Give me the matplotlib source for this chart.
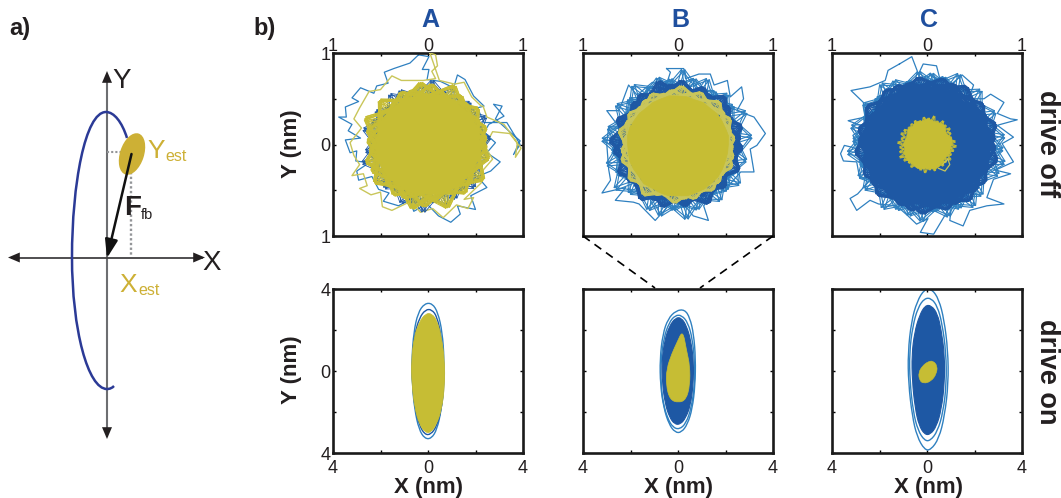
import numpy as np
import matplotlib
matplotlib.use("Agg")
import matplotlib.pyplot as plt
from matplotlib.patches import Ellipse, PathPatch
from matplotlib.path import Path

plt.rcParams['font.family'] = ['Liberation Sans', 'DejaVu Sans']

W, H = 1061, 498
BLUE_DARK = '#1e58a4'
BLUE_LINE = '#2f80c0'
YELLOW = '#c6bd34'
YELLOW_LINE = '#c9c65a'
TEXT = '#231f20'
TITLE = '#1f4f9e'
GOLD = '#cdb035'
ORBIT = '#2b3a96'

columns = ['A', 'B', 'C']
rows = ['drive off', 'drive on']

# ---- top row: trajectories in nm
a_off_blue_x = [-.10,-.19,-.36,-.46,-.42,-.54,-.57,-.71,-.80,-.73,-.87,-.86,-.94,-.80,-.84,-.71,-.87,-.82,-.75,-.76,-.62,-.75,-.73,-.59,-.52,-.41,-.47,-.31,-.19,-.15,-.01,.11,.24,.34,.31,.50,.45,.62,.52,.66,.76,.62,.71,.59,.64,.80,.69,.78,.71,.87,.97,.90,.97,.83,.59,.52,.59,.48,.39,.31,.27,.13,-.01,.01,-.06,.01,-.10]
a_off_blue_y = [.98,.89,.83,.79,.67,.64,.56,.62,.51,.47,.41,.30,.30,.22,.15,.07,.05,-.09,-.07,-.18,-.20,-.29,-.39,-.35,-.49,-.53,-.62,-.67,-.60,-.73,-.65,-.78,-.85,-.76,-.67,-.71,-.56,-.47,-.35,-.29,-.19,-.09,.02,.13,.22,.31,.44,.42,.28,.13,.04,-.11,0,.24,.24,.40,.42,.53,.71,.76,.62,.69,.71,.82,.82,.96,.98]
a_off_yellow_x = [.02,.08,.10,.04,.08,-.05,-.28,-.38,-.50,-.62,-.72,-.78,-.70,-.82,-.78,-.72,-.80,-.68,-.64,-.72,-.60,-.50,-.48,-.38,-.18,-.08,.05,.16,.30,.42,.48,.38,.56,.58,.68,.60,.68,.86,.98,.92,.94,.80,.62,.58,.56,.46,.38,.28,.12,.02]
a_off_yellow_y = [1.0,.98,.86,.80,.72,.70,.70,.75,.60,.58,.40,.28,.18,.02,-.12,-.22,-.34,-.32,-.45,-.48,-.55,-.52,-.68,-.72,-.62,-.74,-.70,-.80,-.66,-.70,-.58,-.60,-.42,-.28,-.16,-.02,.14,.12,-.04,-.14,.02,.22,.30,.42,.42,.52,.68,.66,.70,1.0]
b_off_blue_x = [-.12,.06,.08,.22,.34,.38,.52,.55,.67,.69,.62,.80,.92,.83,.76,.80,.66,.55,.43,.34,.27,.32,.16,.09,-.10,-.24,-.41,-.47,-.66,-.55,-.80,-.71,-.73,-.75,-.73,-.62,-.75,-.62,-.52,-.43,-.27,-.13,-.08,-.12]
b_off_blue_y = [.83,.83,.72,.77,.77,.65,.70,.52,.63,.50,.37,.30,.12,-.01,-.05,-.30,-.30,-.43,-.47,-.58,-.67,-.83,-.78,-.69,-.67,-.83,-.65,-.63,-.61,-.47,-.53,-.39,-.27,.01,.19,.19,.37,.37,.65,.54,.68,.63,.79,.83]
c_off_blue_x = [-.29,-.16,-.09,-.04,.10,.14,.03,.23,.28,.37,.49,.44,.60,.67,.81,.74,.88,.95,.74,.91,.79,.91,.72,.88,.70,.63,.81,.63,.45,.38,.24,.26,.07,-.07,.01,-.11,-.20,-.32,-.51,-.60,-.74,-.81,-.73,-.60,-.71,-.74,-.88,-.91,-.87,-.71,-.78,-.65,-.83,-.65,-.67,-.80,-.60,-.44,-.41,-.29]
c_off_blue_y = [.88,.96,.77,.88,.86,.70,.76,.61,.68,.76,.65,.50,.50,.55,.46,.34,.28,.27,.21,.08,.01,-.19,-.28,-.32,-.38,-.58,-.65,-.67,-.72,-.89,-.83,-.65,-.98,-.96,-.81,-.87,-.78,-.67,-.65,-.61,-.72,-.59,-.54,-.39,-.36,-.19,-.18,-.10,-.01,-.05,.10,.19,.26,.30,.46,.59,.63,.70,.81,.88]
c_off_spur_x = [.16,.22,.24,.19,.12]
c_off_spur_y = [-.22,-.16,-.22,-.29,-.26]

# ---- top row: radius in nm read at evenly spaced bearings
a_fringe_blue = [.50,.66,.52,.60,.50,.68,.50,.62,.52,.64,.50,.60,.52,.66,.50,.62,.52,.70,.50,.64,.52,.62,.50,.66,.52,.68,.50,.60,.52,.66,.50,.64,.52,.70,.50,.62,.52,.66,.50,.72,.52,.64,.50,.68,.52,.66,.50,.62,.52,.70,.50,.66,.52,.74,.50,.64,.52,.70,.50,.66,.52,.62,.50,.68,.52,.66,.50,.62,.52,.64,.50,.60]
a_fringe_yellow = [.52,.62,.50,.64,.53,.60,.50,.66,.52,.61,.50,.64,.51,.70,.52,.60,.50,.66,.53,.68,.50,.62,.52,.64,.50,.60,.52,.70,.50,.62,.53,.72,.50,.66,.52,.64,.50,.62,.53,.68,.50,.66,.52,.70,.50,.62,.52,.66,.50,.64,.53,.72,.50,.68,.52,.62,.50,.72,.52,.60,.50,.66,.53,.62,.50,.70,.52,.60,.50,.66,.52,.62]
a_core = [.55,.55,.54,.55,.55,.54,.56,.55,.56,.55,.54,.55,.55,.54,.55,.54,.55,.54,.55,.54,.55,.55,.56,.54,.55,.56,.55,.54,.56,.56,.55,.56,.54,.55,.55,.56]
b_fringe_1 = [.56,.78,.60,.70,.58,.80,.62,.72,.56,.76,.60,.70,.58,.78,.56,.74,.60,.82,.58,.72,.62,.76,.56,.70,.60,.80,.62,.72,.58,.78,.60,.68,.60,.76,.58,.80,.62,.70,.60,.78,.56,.72,.60,.82,.62,.74,.58,.70,.60,.78,.60,.80,.62,.72,.58,.82,.60,.74,.62,.70,.58,.76,.60,.72,.62,.78,.58,.70,.60,.74,.62,.68]
b_fringe_2 = [.52,.66,.54,.70,.50,.62,.54,.68,.52,.72,.50,.64,.54,.68,.52,.62,.50,.70,.54,.66,.50,.72,.54,.64,.52,.68,.50,.66,.54,.62,.52,.70,.50,.64,.54,.72,.50,.68,.52,.62,.54,.70,.50,.66,.52,.64,.54,.72,.50,.66,.52,.70,.54,.64,.50,.68,.54,.62,.52,.72,.50,.64,.54,.68,.52,.62,.50,.70,.54,.64,.52,.68]
b_fringe_3 = [.54,.60,.56,.58,.52,.64,.56,.60,.54,.62,.52,.58,.56,.64,.52,.58,.56,.62,.54,.60,.52,.64,.56,.58,.54,.60,.52,.62,.56,.58,.54,.64,.52,.60,.56,.62,.54,.58,.52,.64,.56,.60,.54,.62,.52,.58,.56,.64,.54,.60,.52,.62,.56,.58,.54,.64,.52,.60,.56,.62,.54,.58,.52,.64,.56,.60,.54,.62,.52,.58,.56,.64]
b_fringe_yellow = [.50,.60,.52,.58,.50,.62,.52,.60,.50,.64,.52,.58,.50,.62,.52,.58,.50,.64,.52,.60,.50,.58,.52,.62,.50,.60,.52,.58,.50,.62,.52,.60,.50,.64,.52,.58,.50,.60,.52,.62,.50,.58,.52,.64,.50,.60,.52,.66,.50,.60,.52,.58,.50,.64,.52,.60,.50,.62,.52,.58,.50,.62,.52,.60,.50,.58,.52,.62,.50,.60,.52,.58]
b_core = [.53,.54,.53,.53,.53,.52,.53,.52,.53,.53,.54,.53,.53,.52,.53,.53,.54,.54,.53,.53,.54,.54,.54,.56,.55,.56,.57,.56,.57,.56,.56,.55,.55,.54,.53,.53]
c_fringe_1 = [.62,.82,.64,.74,.62,.80,.64,.72,.62,.82,.66,.72,.64,.84,.62,.76,.64,.78,.62,.80,.64,.72,.62,.78,.64,.82,.62,.74,.66,.80,.62,.72,.64,.82,.62,.78,.64,.84,.62,.74,.66,.80,.62,.82,.64,.74,.62,.84,.64,.78,.62,.80,.64,.84,.62,.74,.66,.82,.62,.78,.64,.84,.62,.80,.64,.74,.62,.82,.64,.84,.62,.80]
c_fringe_2 = [.62,.72,.60,.76,.64,.70,.60,.74,.62,.70,.60,.76,.64,.72,.60,.74,.62,.68,.60,.74,.64,.70,.60,.72,.62,.74,.60,.70,.62,.76,.64,.70,.60,.74,.62,.72,.64,.76,.60,.70,.62,.74,.60,.72,.64,.76,.60,.70,.62,.72,.64,.74,.60,.76,.62,.70,.60,.74,.64,.72,.60,.76,.62,.72,.60,.74,.64,.70,.60,.76,.62,.72]
c_fill = [.66,.65,.63,.62,.62,.60,.62,.62,.63,.62,.61,.62,.62,.62,.63,.63,.64,.66,.66,.67,.67,.66,.66,.67,.67,.67,.66,.65,.64,.63,.63,.64,.64,.66,.66,.66]
c_core = [.26,.27,.25,.24,.25,.28,.27,.26,.27,.28,.26,.27,.26,.25,.26,.24,.23,.24,.25,.24,.26,.26,.27,.26,.27,.28,.27,.26,.27,.28,.27,.26,.24,.25,.26,.25]
c_fringe_yellow = [.24,.30,.25,.27,.24,.28,.25,.30,.24,.29,.25,.31,.24,.28,.25,.32,.24,.29,.25,.30,.24,.27,.25,.29,.24,.28,.25,.27,.24,.29,.25,.30,.24,.28,.25,.31,.24,.29,.25,.30,.24,.32,.25,.30,.24,.28,.25,.30,.24,.27,.25,.29,.24,.31,.25,.28,.24,.30,.25,.27,.24,.29,.25,.28,.24,.30,.25,.28,.24,.29,.25,.31]

# ---- bottom row: loops as closed spline control points, in nm
a_on_outer_x = [.18,.42,.60,.68,.66,.56,.38,.14,-.14,-.38,-.56,-.66,-.68,-.60,-.42,-.14]
a_on_outer_y = [3.3,2.85,1.9,.6,-.7,-1.9,-2.85,-3.3,-3.3,-2.85,-1.9,-.7,.6,1.9,2.85,3.3]
a_on_mid_x = [.16,.38,.54,.66,.68,.56,.36,.12,-.14,-.36,-.54,-.66,-.68,-.56,-.36,-.10]
a_on_mid_y = [3.0,2.65,1.8,.5,-.7,-1.9,-2.7,-3.1,-3.1,-2.65,-1.85,-.6,.5,1.8,2.6,3.0]
a_on_core_x = [.16,.38,.56,.70,.70,.58,.36,.12,-.12,-.36,-.56,-.68,-.70,-.58,-.36,-.10]
a_on_core_y = [2.8,2.45,1.7,.5,-.7,-1.85,-2.6,-3.0,-3.0,-2.6,-1.8,-.6,.5,1.7,2.4,2.8]
b_on_outer_x = [.28,.50,.66,.74,.72,.60,.40,.14,-.12,-.38,-.60,-.74,-.76,-.64,-.42,-.08]
b_on_outer_y = [3.0,2.6,1.8,.6,-.7,-1.85,-2.6,-3.0,-3.0,-2.6,-1.8,-.7,.6,1.8,2.55,2.95]
b_on_outer2_x = [.16,.42,.60,.70,.70,.56,.34,.06,-.22,-.44,-.62,-.72,-.72,-.60,-.38,-.12]
b_on_outer2_y = [2.72,2.35,1.6,.5,-.7,-1.8,-2.55,-2.85,-2.75,-2.3,-1.6,-.6,.5,1.6,2.35,2.72]
b_on_fill_x = [.14,.36,.54,.66,.64,.52,.32,.10,-.14,-.36,-.54,-.66,-.68,-.56,-.36,-.10]
b_on_fill_y = [2.6,2.2,1.5,.45,-.7,-1.7,-2.3,-2.6,-2.6,-2.25,-1.6,-.6,.5,1.5,2.2,2.6]
b_on_core_x = [.2,.36,.5,.5,.34,.02,-.34,-.5,-.48,-.26,-.04]
b_on_core_y = [2.0,1.0,.25,-.7,-1.4,-1.55,-1.4,-.7,.1,.85,1.4]
c_on_outer_x = [.20,.50,.72,.88,.90,.74,.50,.16,-.10,-.42,-.62,-.78,-.80,-.66,-.42,-.10]
c_on_outer_y = [4.0,3.5,2.5,1.0,-.6,-2.2,-3.3,-3.85,-3.85,-3.2,-2.2,-.6,.9,2.4,3.4,4.0]
c_on_outer2_x = [.18,.44,.64,.80,.82,.68,.44,.14,-.10,-.38,-.58,-.72,-.74,-.60,-.38,-.10]
c_on_outer2_y = [3.55,3.15,2.3,.9,-.6,-2.0,-2.95,-3.4,-3.4,-2.9,-2.0,-.5,.9,2.2,3.1,3.55]
c_on_fill_x = [.18,.44,.60,.74,.74,.60,.40,.14,-.10,-.34,-.50,-.62,-.64,-.52,-.32,-.08]
c_on_fill_y = [3.2,2.8,2.0,.8,-.6,-1.9,-2.7,-3.1,-3.1,-2.65,-1.8,-.5,.8,1.9,2.7,3.2]
c_on_core_x = [.26,.44,.40,.18,-.14,-.32,-.36,-.20,.04]
c_on_core_y = [.50,.24,-.14,-.50,-.62,-.46,-.08,.24,.46]

# ---- axis scales and tick labels
top_ticks = [-1, -.5, 0, .5, 1]
top_labels = ['1', '', '0', '', '1']
bottom_ticks = [-4, -2, 0, 2, 4]
bottom_labels = ['4', '', '0', '', '4']


def bearing_xy(radii, stride=1, turn=0.0):
    r = np.asarray(radii, float)
    order = (np.arange(r.size + 1) * stride) % r.size
    t = np.deg2rad(order * 360.0 / r.size + turn)
    return r[order] * np.cos(t), r[order] * np.sin(t)


def spline_path(xs, ys):
    p = np.column_stack([xs, ys])
    q = np.roll(p, -1, axis=0)
    m = (p + q) / 2
    verts, codes = [m[-1]], [Path.MOVETO]
    for i in range(len(p)):
        verts += [p[i], m[i]]
        codes += [Path.CURVE3, Path.CURVE3]
    return Path(verts, codes)


fig = plt.figure(figsize=(W / 100, H / 100), dpi=100, facecolor='white')


def axes_px(l, t, r, b, **kw):
    return fig.add_axes([l / W, 1 - b / H, (r - l) / W, (b - t) / H], **kw)


ov = axes_px(0, 0, W, H, zorder=5)
ov.set_xlim(0, W)
ov.set_ylim(H, 0)
ov.axis('off')
ov.patch.set_alpha(0)

lefts = [(333, 523), (583, 773), (832, 1022)]


def style(ax, ticks, labels, top):
    ax.set_xlim(ticks[0], ticks[-1])
    ax.set_ylim(ticks[0], ticks[-1])
    ax.set_xticks(ticks)
    ax.set_yticks(ticks)
    ax.set_xticklabels(labels)
    ax.set_yticklabels(labels)
    ax.tick_params(direction='in', length=2.5, width=1, top=True, right=True,
                   labeltop=top, labelbottom=not top, labelsize=13,
                   labelcolor=TEXT, pad=2)
    ax.tick_params(axis='x', pad=-1.5 if top else 5)
    for s in ax.spines.values():
        s.set_linewidth(1.9)
        s.set_color('#1a1a1a')


def zig(ax, radii, color, lw=.8, z=2, strides=(1, 5, 7), turns=(0, 1.7, 3.3)):
    for s in strides:
        for turn in turns:
            x, y = bearing_xy(radii, s, turn)
            ax.plot(x, y, color=color, lw=lw, zorder=z)


def fill_r(ax, radii, color, z):
    x, y = bearing_xy(radii)
    ax.fill(x, y, color=color, lw=.5, zorder=z)


def loop(ax, xs, ys, color, lw=1.0, z=2, fill=False):
    ax.add_patch(PathPatch(spline_path(xs, ys), fc=color if fill else 'none',
                           ec=color, lw=lw, zorder=z))


# top row
axs_top = [axes_px(l, 53, r, 236) for l, r in lefts]
for i, ax in enumerate(axs_top):
    style(ax, top_ticks, top_labels, True)
    if i:
        ax.set_yticklabels([])

ax = axs_top[0]
ax.plot(a_off_blue_x, a_off_blue_y, color=BLUE_LINE, lw=.9, zorder=2)
ax.plot(a_off_yellow_x, a_off_yellow_y, color=YELLOW_LINE, lw=1.0, zorder=3)
zig(ax, a_fringe_blue, BLUE_DARK, .6, 3, (1, 5), (0, 2.5))
zig(ax, a_fringe_yellow, YELLOW, .8, 4)
fill_r(ax, a_core, YELLOW, 5)

ax = axs_top[1]
ax.plot(b_off_blue_x, b_off_blue_y, color=BLUE_LINE, lw=.9, zorder=2)
zig(ax, b_fringe_1, BLUE_LINE, .8, 2, (1, 5), (0, 2.5))
zig(ax, b_fringe_2, BLUE_DARK, .8, 3)
zig(ax, b_fringe_3, BLUE_DARK, 1.0, 3, (1, 5), (0, 2.5))
zig(ax, b_fringe_yellow, YELLOW_LINE, .7, 4)
fill_r(ax, b_core, YELLOW, 5)

ax = axs_top[2]
ax.plot(c_off_blue_x, c_off_blue_y, color=BLUE_LINE, lw=.9, zorder=2)
zig(ax, c_fringe_1, BLUE_LINE, .8, 2, (1, 5), (0, 2.5))
zig(ax, c_fringe_2, BLUE_DARK, .8, 3)
fill_r(ax, c_fill, BLUE_DARK, 3)
zig(ax, c_fringe_yellow, YELLOW, .7, 4, (1,), (0, 2.5))
ax.plot(c_off_spur_x, c_off_spur_y, color=YELLOW_LINE, lw=.9, zorder=4)
fill_r(ax, c_core, YELLOW, 5)

# bottom row
axs_bot = [axes_px(l, 289, r, 453) for l, r in lefts]
for i, ax in enumerate(axs_bot):
    style(ax, bottom_ticks, bottom_labels, False)
    if i:
        ax.set_yticklabels([])

ax = axs_bot[0]
loop(ax, a_on_outer_x, a_on_outer_y, BLUE_LINE, 1.0, 2)
loop(ax, a_on_mid_x, a_on_mid_y, BLUE_DARK, 1.0, 3)
loop(ax, a_on_core_x, a_on_core_y, YELLOW, .6, 4, True)

ax = axs_bot[1]
loop(ax, b_on_outer_x, b_on_outer_y, BLUE_LINE, 1.0, 2)
loop(ax, b_on_outer2_x, b_on_outer2_y, BLUE_LINE, 1.0, 2)
loop(ax, b_on_fill_x, b_on_fill_y, BLUE_DARK, .8, 3, True)
loop(ax, b_on_core_x, b_on_core_y, YELLOW, .5, 4, True)

ax = axs_bot[2]
loop(ax, c_on_outer_x, c_on_outer_y, BLUE_LINE, 1.0, 2)
loop(ax, c_on_outer2_x, c_on_outer2_y, BLUE_LINE, 1.0, 2)
loop(ax, c_on_fill_x, c_on_fill_y, BLUE_DARK, .8, 3, True)
loop(ax, c_on_core_x, c_on_core_y, YELLOW, .4, 4, True)

# labels
tk = dict(color=TEXT, ha='center', va='center')
for (l, r), name in zip(lefts, columns):
    ov.text((l + r) / 2 + 2, 20, name, color=TITLE, fontsize=18, fontweight='bold',
            ha='center', va='center')
    ov.text((l + r) / 2 + 1, 487, 'X (nm)', fontsize=16, fontweight='bold', **tk)
ov.text(292, 144, 'Y (nm)', fontsize=16, fontweight='bold', rotation=90, **tk)
ov.text(292, 370, 'Y (nm)', fontsize=16, fontweight='bold', rotation=90, **tk)
ov.text(1047, 144, rows[0], fontsize=19.5, fontweight='bold', rotation=270, **tk)
ov.text(1047, 372, rows[1], fontsize=19.5, fontweight='bold', rotation=270, **tk)
ov.text(9, 28, 'a)', fontsize=17, fontweight='bold', color=TEXT, ha='left', va='center')
ov.text(253, 28, 'b)', fontsize=17, fontweight='bold', color=TEXT, ha='left', va='center')

# zoom connectors
ov.plot([583, 655], [236, 288], color='black', lw=1.2, ls=(0, (5, 3.5)))
ov.plot([773, 700], [236, 288], color='black', lw=1.2, ls=(0, (5, 3.5)))

# panel a
ov.plot([107, 107], [76, 436], color='#6d6e71', lw=1.5, zorder=1)
ov.plot([12, 202], [257.5, 257.5], color='#414042', lw=1.3, zorder=1)
for tip, tail in [((107, 71), (107, 83)), ((107, 439), (107, 427)),
                  ((8, 257.5), (20, 257.5)), ((205, 257.5), (193, 257.5))]:
    ov.annotate('', xy=tip, xytext=tail, arrowprops=dict(
        arrowstyle='-|>,head_length=.85,head_width=.36', color='#231f20', lw=0,
        shrinkA=0, shrinkB=0))
orbit = Path([(127, 138), (122, 122), (114, 112), (106, 112),
              (85, 112), (72, 185), (72, 257),
              (72, 330), (88, 389), (107, 389),
              (110, 389), (112, 388), (114, 386)],
             [Path.MOVETO] + [Path.CURVE4] * 12)
ov.add_patch(PathPatch(orbit, fc='none', ec=ORBIT, lw=1.8, zorder=2))
ov.add_patch(Ellipse((132, 154), 24, 43, angle=18, fc=GOLD, ec='none', zorder=3))
ov.plot([107, 121], [152, 152], color='#939598', lw=1.5, ls=(0, (1, 1)), zorder=2)
ov.plot([131, 131], [172, 257], color='#939598', lw=1.7, ls=(0, (1, 1)), zorder=2)
ov.annotate('', xy=(107, 258), xytext=(131.5, 154), zorder=4, arrowprops=dict(
    arrowstyle='-|>,head_length=1.1,head_width=.38', color='#111111', lw=1.8,
    shrinkA=0, shrinkB=0))
ov.text(122, 81, 'Y', fontsize=20, color=TEXT, ha='center', va='center')
ov.text(212, 263, 'X', fontsize=20, color=TEXT, ha='center', va='center')
ov.text(147, 151, 'Y', fontsize=19, color=GOLD, ha='left', va='center')
ov.text(165, 156, 'est', fontsize=11.5, color=GOLD, ha='left', va='center')
ov.text(119, 285, 'X', fontsize=19, color=GOLD, ha='left', va='center')
ov.text(138, 290, 'est', fontsize=11.5, color=GOLD, ha='left', va='center')
ov.text(124, 208, 'F', fontsize=20, fontweight='bold', color=TEXT, ha='left', va='center')
ov.text(141, 215, 'fb', fontsize=10.5, color=TEXT, ha='left', va='center')

fig.savefig('out.png', dpi=100)
